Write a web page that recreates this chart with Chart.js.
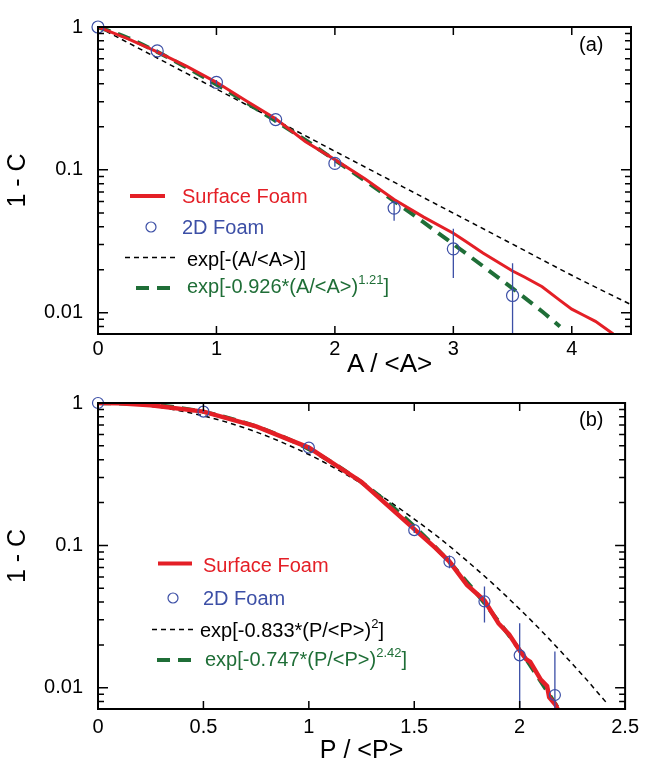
<!DOCTYPE html>
<html>
<head>
<meta charset="utf-8">
<script src="https://cdn.jsdelivr.net/npm/chart.js@4.4.1/dist/chart.umd.min.js"></script>
<style>
body { margin: 0; background: #fff; }
#wrap { position: relative; width: 645px; height: 766px; font-family: 'Liberation Sans', Arial, sans-serif; }
canvas { position: absolute; left: 0; }
.lab { position: absolute; font-size: 20px; line-height: 20px; white-space: nowrap; }
.lab .sup { font-size: 13px; position: relative; top: -9px; }
#syms { position: absolute; left: 0; top: 0; pointer-events: none; }
</style>
</head>
<body>
<div id="wrap">
  <canvas id="chartA" width="645" height="376" style="top:0"></canvas>
  <canvas id="chartB" width="645" height="390" style="top:376px"></canvas>

  <div class="lab" style="left:579px;top:34px">(a)</div>
  <div class="lab" style="left:579px;top:409px">(b)</div>
  <div class="lab" style="left:347px;top:350px;font-size:26px;line-height:26px">A / &lt;A&gt;</div>

  <div class="lab" style="left:182px;top:186px;color:#e41f26">Surface Foam</div>
  <div class="lab" style="left:182px;top:217px;color:#3c4fa6">2D Foam</div>
  <div class="lab" style="left:187px;top:249px;color:#000">exp[-(A/&lt;A&gt;)]</div>
  <div class="lab" style="left:187px;top:276px;color:#1f6e37">exp[-0.926*(A/&lt;A&gt;)<span class="sup">1.21</span>]</div>

  <div class="lab" style="left:203px;top:555px;color:#e41f26">Surface Foam</div>
  <div class="lab" style="left:203px;top:588px;color:#3c4fa6">2D Foam</div>
  <div class="lab" style="left:200px;top:620px;color:#000">exp[-0.833*(P/&lt;P&gt;)<span class="sup">2</span>]</div>
  <div class="lab" style="left:205px;top:649px;color:#1f6e37">exp[-0.747*(P/&lt;P&gt;)<span class="sup">2.42</span>]</div>

  <svg id="syms" width="645" height="766">
    <line x1="130" y1="196" x2="165" y2="196" stroke="#e41f26" stroke-width="4"/>
    <circle cx="151" cy="227" r="5" fill="none" stroke="#3c4fa6" stroke-width="1.2"/>
    <line x1="125" y1="257.5" x2="177" y2="257.5" stroke="#000" stroke-width="1.5" stroke-dasharray="5 4"/>
    <line x1="136" y1="288" x2="173" y2="288" stroke="#1f6e37" stroke-width="4" stroke-dasharray="13 8"/>
    <line x1="158" y1="563.5" x2="192" y2="563.5" stroke="#e41f26" stroke-width="4"/>
    <circle cx="173" cy="598" r="5" fill="none" stroke="#3c4fa6" stroke-width="1.2"/>
    <line x1="152" y1="629.5" x2="193" y2="629.5" stroke="#000" stroke-width="1.5" stroke-dasharray="5 4"/>
    <line x1="157" y1="660" x2="195" y2="660" stroke="#1f6e37" stroke-width="4" stroke-dasharray="13 8"/>
  </svg>
</div>

<script>
// ---- panel (a): cell area ----
const areaX       = [0, 0.25, 0.5, 0.75, 1, 1.25, 1.5, 1.75, 2, 2.25, 2.5, 2.75, 3, 3.1, 3.25, 3.5, 3.6, 3.75, 3.9, 4, 4.1, 4.2, 4.35];
const areaSurface = [1, 0.83, 0.67, 0.53, 0.41, 0.305, 0.228, 0.158, 0.118, 0.087, 0.062, 0.0467, 0.036, 0.0318, 0.0262, 0.0196, 0.0178, 0.0152, 0.0122, 0.0106, 0.0096, 0.0087, 0.0071];
const area2DX     = [0, 0.5, 1, 1.5, 2, 2.5, 3, 3.5];
const area2D      = [1, 0.68, 0.41, 0.225, 0.111, 0.054, 0.028, 0.0132];
const area2DLow   = [1, 0.665, 0.395, 0.215, 0.105, 0.044, 0.0175, 0.005];
const area2DHigh  = [1, 0.695, 0.425, 0.235, 0.118, 0.06, 0.0387, 0.0222];
const areaExpX    = [0, 0.5, 1, 1.5, 2, 2.5, 3, 3.5, 4, 4.5];
const areaExp     = [1, 0.607, 0.368, 0.223, 0.135, 0.082, 0.0498, 0.0302, 0.0183, 0.0114];
const areaFitX    = [0, 0.25, 0.5, 0.75, 1, 1.25, 1.5, 1.75, 2, 2.25, 2.5, 2.75, 3, 3.25, 3.5, 3.75, 3.9];
const areaFit     = [1, 0.841, 0.670, 0.520, 0.396, 0.297, 0.220, 0.162, 0.117, 0.0845, 0.0604, 0.0429, 0.0302, 0.0212, 0.0148, 0.0102, 0.0080];
const areaXTicks  = [0, 1, 2, 3, 4];
const areaXLabels = ['0', '1', '2', '3', '4'];

// ---- panel (b): cell perimeter ----
const perX        = [0, 0.1, 0.25, 0.5, 0.75, 1, 1.25, 1.5, 1.6, 1.667, 1.75, 1.833, 1.9, 1.95, 2, 2.03, 2.05, 2.1, 2.13, 2.14, 2.17, 2.18];
const perSurface  = [1, 0.995, 0.965, 0.87, 0.685, 0.486, 0.279, 0.13, 0.096, 0.077, 0.0528, 0.041, 0.0283, 0.0237, 0.0183, 0.0159, 0.0152, 0.0114, 0.0103, 0.0086, 0.0076, 0.0071];
const per2DX      = [0, 0.5, 1, 1.5, 1.667, 1.833, 2, 2.167];
const per2D       = [1, 0.87, 0.486, 0.128, 0.0768, 0.0404, 0.0169, 0.0089];
const per2DLow    = [1, 0.86, 0.47, 0.122, 0.069, 0.0287, 0.005, 0.005];
const per2DHigh   = [1, 0.88, 0.50, 0.134, 0.085, 0.0515, 0.0284, 0.018];
const perExpX     = [0, 0.25, 0.5, 0.75, 1, 1.125, 1.25, 1.375, 1.5, 1.625, 1.75, 1.875, 2, 2.1, 2.2, 2.3, 2.42];
const perExp      = [1, 0.949, 0.812, 0.626, 0.435, 0.348, 0.272, 0.207, 0.153, 0.111, 0.0778, 0.0535, 0.0357, 0.0254, 0.0177, 0.0122, 0.0076];
const perFitX     = [0, 0.25, 0.5, 0.75, 1, 1.25, 1.5, 1.75, 2, 2.18];
const perFit      = [1, 0.974, 0.866, 0.684, 0.474, 0.2775, 0.136, 0.0554, 0.0184, 0.0073];
const perXTicks   = [0, 0.5, 1, 1.5, 2, 2.5];
const perXLabels  = ['0', '0.5', '1', '1.5', '2', '2.5'];

// shared log axis
const yMin = 0.0071, yMax = 1;
const yTicks = [0.01, 0.1, 1];
const yLabels = ['0.01', '0.1', '1'];
const yMinor = [0.008, 0.009, 0.02, 0.03, 0.04, 0.05, 0.06, 0.07, 0.08, 0.09, 0.2, 0.3, 0.4, 0.5, 0.6, 0.7, 0.8, 0.9];

const FONT = "'Liberation Sans', Arial, sans-serif";
const RED = '#e41f26', BLUE = '#3c4fa6', GREEN = '#1f6e37';

const pts = (xs, ys) => xs.map((x, i) => ({ x: x, y: ys[i] }));

// frame with inward ticks on all four sides
const frameTicks = {
    id: 'frameTicks',
    afterDraw(chart, args, opts) {
        const ctx = chart.ctx, a = chart.chartArea;
        const sx = chart.scales.x, sy = chart.scales.y;
        ctx.save();
        ctx.strokeStyle = '#000';
        ctx.lineWidth = 1.5;
        ctx.beginPath();
        opts.xTicks.forEach(v => {
            const p = sx.getPixelForValue(v);
            ctx.moveTo(p, a.bottom); ctx.lineTo(p, a.bottom - 8);
            ctx.moveTo(p, a.top); ctx.lineTo(p, a.top + 8);
        });
        yTicks.forEach(v => {
            const p = sy.getPixelForValue(v);
            ctx.moveTo(a.left, p); ctx.lineTo(a.left + 10, p);
            ctx.moveTo(a.right, p); ctx.lineTo(a.right - 10, p);
        });
        yMinor.forEach(v => {
            const p = sy.getPixelForValue(v);
            ctx.moveTo(a.left, p); ctx.lineTo(a.left + 6, p);
            ctx.moveTo(a.right, p); ctx.lineTo(a.right - 6, p);
        });
        ctx.stroke();
        ctx.lineWidth = 2;
        ctx.strokeRect(a.left, a.top, a.right - a.left, a.bottom - a.top);
        ctx.restore();
    }
};

// vertical error bars on the 2D foam points
const errorBars = {
    id: 'errorBars',
    afterDatasetsDraw(chart, args, opts) {
        const ctx = chart.ctx, a = chart.chartArea;
        const sx = chart.scales.x, sy = chart.scales.y;
        ctx.save();
        ctx.beginPath();
        ctx.rect(a.left, a.top, a.right - a.left, a.bottom - a.top);
        ctx.clip();
        ctx.strokeStyle = BLUE;
        ctx.lineWidth = 1.3;
        ctx.beginPath();
        opts.x.forEach((x, i) => {
            const px = sx.getPixelForValue(x);
            ctx.moveTo(px, sy.getPixelForValue(opts.high[i]));
            ctx.lineTo(px, sy.getPixelForValue(opts.low[i]));
        });
        ctx.stroke();
        ctx.restore();
    }
};

function makePanel(id, o) {
    return new Chart(document.getElementById(id), {
        type: 'scatter',
        data: {
            datasets: [{
                label: '2D Foam',
                data: pts(o.dX, o.d),
                showLine: false,
                clip: false,
                pointRadius: o.r,
                pointBorderColor: BLUE,
                pointBackgroundColor: 'rgba(0,0,0,0)',
                pointBorderWidth: 1.2,
                order: 0
            }, {
                label: 'Surface Foam',
                data: pts(o.sX, o.s),
                showLine: true,
                borderColor: RED,
                borderWidth: o.redWidth,
                pointRadius: 0,
                order: 1
            }, {
                label: 'fit',
                data: pts(o.fX, o.f),
                showLine: true,
                borderColor: GREEN,
                borderWidth: 4,
                borderDash: [13, 8],
                pointRadius: 0,
                cubicInterpolationMode: 'monotone',
                order: 2
            }, {
                label: 'exp',
                data: pts(o.eX, o.e),
                showLine: true,
                borderColor: '#000',
                borderWidth: 1.5,
                borderDash: [5, 4],
                pointRadius: 0,
                cubicInterpolationMode: 'monotone',
                order: 3
            }]
        },
        options: {
            responsive: false,
            animation: false,
            layout: { padding: { left: 0, right: 14, top: o.padTop, bottom: 0 } },
            plugins: {
                legend: { display: false },
                tooltip: { enabled: false },
                frameTicks: { xTicks: o.xTicks },
                errorBars: { x: o.dX, low: o.lo, high: o.hi }
            },
            scales: {
                x: {
                    type: 'linear',
                    min: 0,
                    max: o.xMax,
                    afterBuildTicks: s => { s.ticks = o.xTicks.map(v => ({ value: v })); },
                    afterFit: s => { s.height = o.xHeight; },
                    grid: { display: false, drawTicks: false },
                    border: { display: false },
                    ticks: {
                        autoSkip: false, maxRotation: 0, padding: o.xPad, color: '#000',
                        font: { family: FONT, size: 20 },
                        callback: (v, i) => o.xLabels[i]
                    },
                    title: {
                        display: !!o.xTitle,
                        text: o.xTitle || '',
                        color: '#000',
                        font: { family: FONT, size: 25, lineHeight: 1.2 },
                        padding: { top: 0, bottom: 0 }
                    }
                },
                y: {
                    type: 'logarithmic',
                    min: yMin,
                    max: yMax,
                    afterBuildTicks: s => { s.ticks = yTicks.map(v => ({ value: v })); },
                    afterFit: s => { s.width = 98; },
                    grid: { display: false, drawTicks: false },
                    border: { display: false },
                    ticks: {
                        padding: 15, color: '#000',
                        font: { family: FONT, size: 20 },
                        callback: (v, i) => yLabels[i]
                    },
                    title: {
                        display: true,
                        text: '1 - C',
                        color: '#000',
                        font: { family: FONT, size: 25, lineHeight: 1.2 },
                        padding: { top: 3, bottom: 0 }
                    }
                }
            }
        },
        plugins: [frameTicks, errorBars]
    });
}

makePanel('chartA', {
    sX: areaX, s: areaSurface, dX: area2DX, d: area2D, lo: area2DLow, hi: area2DHigh,
    eX: areaExpX, e: areaExp, fX: areaFitX, f: areaFit,
    xTicks: areaXTicks, xLabels: areaXLabels, xMax: 4.5,
    padTop: 16, xHeight: 42, xPad: 3, r: 6, redWidth: 3, xTitle: null
});

makePanel('chartB', {
    sX: perX, s: perSurface, dX: per2DX, d: per2D, lo: per2DLow, hi: per2DHigh,
    eX: perExpX, e: perExp, fX: perFitX, f: perFit,
    xTicks: perXTicks, xLabels: perXLabels, xMax: 2.5,
    padTop: 15, xHeight: 57, xPad: 6, r: 5.5, redWidth: 4.5, xTitle: 'P / <P>'
});
</script>
</body>
</html>
